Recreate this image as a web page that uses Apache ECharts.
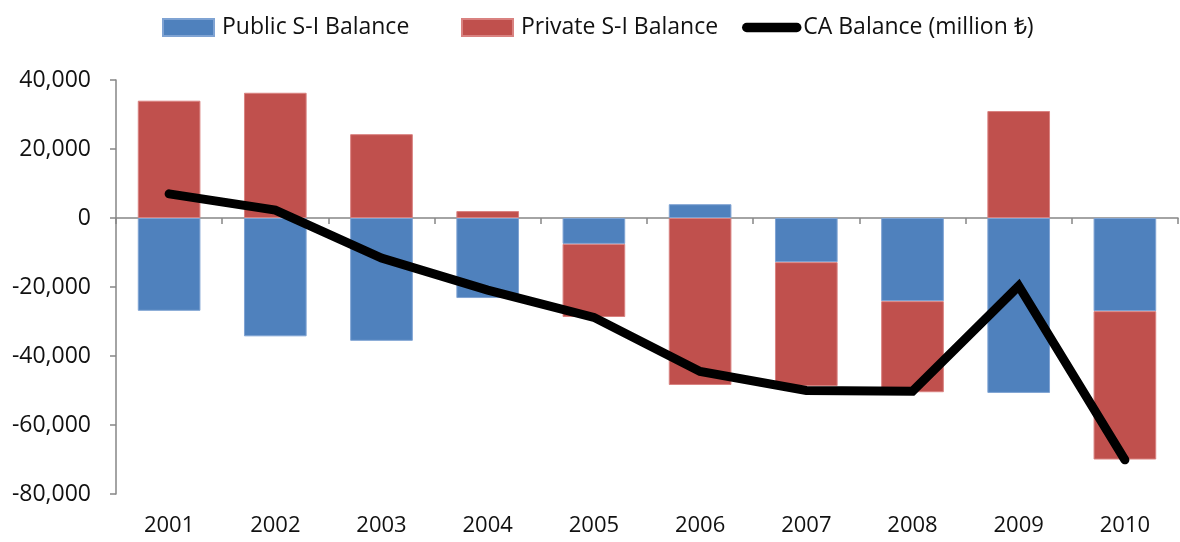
<!DOCTYPE html>
<html>
<head>
<meta charset="utf-8">
<script src="https://cdn.jsdelivr.net/npm/echarts@6/dist/echarts.min.js"></script>
<style>html,body{margin:0;padding:0;background:#fff;}#c{width:1180px;height:542px;}</style>
</head>
<body>
<div id="c"></div>
<script>
var categories = ['2001','2002','2003','2004','2005','2006','2007','2008','2009','2010'];
var publicSI = [-26900, -34300, -35600, -23200, -7500, 4000, -12800, -24100, -50700, -27000];
var privateSI = [34000, 36300, 24300, 2000, -21200, -48400, -35900, -26400, 31000, -43000];
var caBalance = [7000, 2300, -11600, -20900, -28800, -44500, -50000, -50200, -19700, -70100];
var yTicks = { min: -80000, max: 40000, interval: 20000 };

var FONT = '"Open Sans", sans-serif';
var TXT = '#111';
var chart = echarts.init(document.getElementById('c'));
chart.setOption({
  animation: false,
  backgroundColor: '#ffffff',
  grid: { left: 116, right: 2, top: 80, bottom: 48, containLabel: false },
  legend: [
    { left: 157, top: 11, itemWidth: 51, itemHeight: 17, itemGap: 0,
      textStyle: { fontFamily: FONT, fontSize: 23, color: TXT, padding: [0, 0, 0, 3] },
      data: [{ name: 'Public S-I Balance', icon: 'rect' }] },
    { left: 456, top: 11, itemWidth: 51, itemHeight: 17, itemGap: 0,
      textStyle: { fontFamily: FONT, fontSize: 23, color: TXT, padding: [0, 0, 0, 3] },
      data: [{ name: 'Private S-I Balance', icon: 'rect' }] },
    { left: 737, top: 11, itemWidth: 63, itemHeight: 17, itemGap: 0,
      textStyle: { fontFamily: FONT, fontSize: 23, color: TXT, padding: [0, 0, 0, -5] },
      data: [{ name: 'CA Balance (million ₺)', icon: 'path://M5,4 L58,4 A5,5 0 0 1 58,14 L5,14 A5,5 0 0 1 5,4 Z M0,0 L0,0 M63,18 L63,18' }] }
  ],
  xAxis: [
    { type: 'category', data: categories, position: 'bottom',
      axisLine: { show: false, onZero: false }, axisTick: { show: false },
      axisLabel: { fontFamily: FONT, fontSize: 22, color: TXT, margin: 21 } },
    { type: 'category', data: categories, position: 'bottom',
      axisLine: { show: true, onZero: true, lineStyle: { color: '#868686', width: 1.5 } },
      axisTick: { show: true, inside: false, length: 6, lineStyle: { color: '#868686', width: 1.5 } },
      axisLabel: { show: false } }
  ],
  yAxis: {
    type: 'value', min: yTicks.min, max: yTicks.max, interval: yTicks.interval,
    splitLine: { show: false },
    axisLine: { show: true, lineStyle: { color: '#868686', width: 1.5 } },
    axisTick: { show: true, length: 6, lineStyle: { color: '#868686', width: 1.5 } },
    axisLabel: { fontFamily: FONT, fontSize: 23, color: TXT, margin: 25,
      formatter: function (v) { return v.toLocaleString('en-US'); } }
  },
  series: [
    { name: 'Public S-I Balance', type: 'bar', stack: 'si', data: publicSI, barWidth: '59%',
      itemStyle: { color: '#4F81BD', borderColor: '#7fa3d3', borderWidth: 1 } },
    { name: 'Private S-I Balance', type: 'bar', stack: 'si', data: privateSI, barWidth: '59%',
      itemStyle: { color: '#C0504D', borderColor: '#d98280', borderWidth: 1 } },
    { name: 'CA Balance (million ₺)', type: 'line', data: caBalance, symbol: 'none', z: 5,
      itemStyle: { color: '#000' },
      lineStyle: { color: '#000', width: 9, cap: 'round', join: 'miter' } }
  ]
});
</script>
</body>
</html>
